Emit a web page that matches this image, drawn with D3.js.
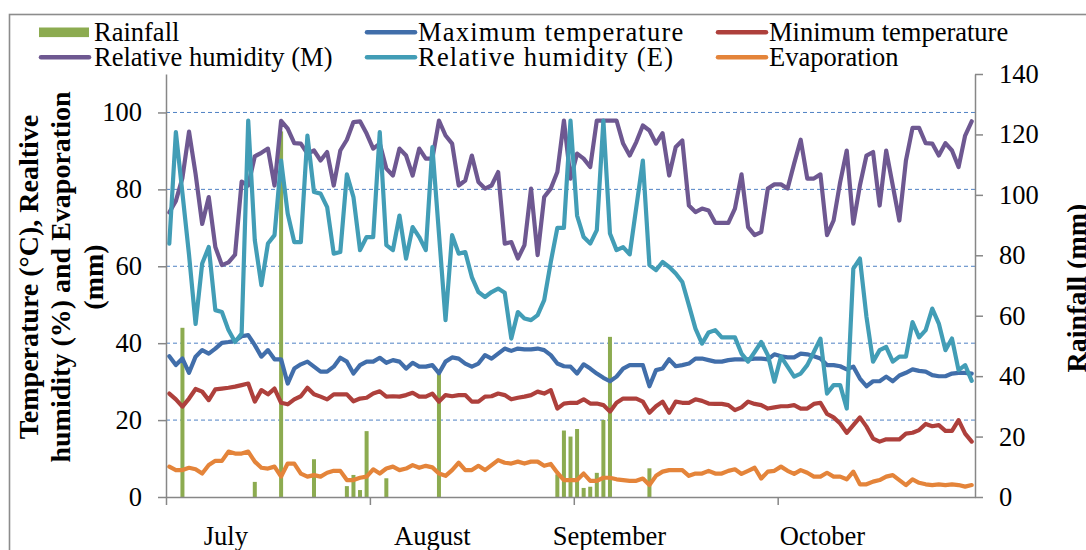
<!DOCTYPE html>
<html>
<head>
<meta charset="utf-8">
<script src="https://cdn.jsdelivr.net/npm/d3@7"></script>
<style>
  body { margin: 0; background: #fff; }
  svg text { font-family: "Liberation Serif", serif; fill: #000; }
</style>
</head>
<body>
<svg id="chart" width="1086" height="550" font-family="Liberation Serif, serif"></svg>
<script>
// Daily weather record, 1 July – 31 October (123 days)
const days = d3.range(123);

// Rainfall (mm), secondary axis
const rainfall = [
  0,0,56,0,0,0,0,0,0,0, 0,0,0,5,0,0,0,121,0,0,
  0,0,12.5,0,0,0,0,3.6,7.3,2.3, 21.8,0,0,6.2,0,0,0,0,0,0,
  0,41,0,0,0,0,0,0,0,0, 0,0,0,0,0,0,0,0,0,7.5,
  22,20,22.5,3,3.4,8,25.5,53,0,0, 0,0,0,9.5,0,0,0,0,0,0,
  0,0,0,0,0,0,0,0,0,0, 0,0,0,0,0,0,0,0,0,0,
  0,0,0,0,0,0,0,0,0,0, 0,0,0,0,0,0,0,0,0,0,
  0,0,0
];

// Maximum temperature (°C)
const maxTemp = [
  36.6,34.3,36.0,32.3,36.5,38.2,37.3,38.6,40.1,40.3, 40.6,41.8,42.1,39.5,36.5,38.2,35.8,35.8,29.5,33.4,
  34.5,35.2,33.9,32.6,32.6,33.9,36.2,35.2,32.1,34.3, 35.2,35.2,36.2,34.9,35.6,35.2,33.4,34.9,33.9,33.9,
  34.3,32.2,35.2,36.3,36.0,34.7,33.9,34.7,36.9,36.0, 37.3,38.6,38.0,38.6,38.4,38.4,38.6,38.2,36.9,34.7,
  34.0,33.9,32.1,34.5,33.4,32.1,31.0,30.1,31.3,33.4, 34.3,34.3,34.3,28.8,33.0,33.4,35.8,34.0,34.3,34.7,
  36.0,36.0,35.6,35.2,35.2,35.6,35.8,35.8,35.8,36.0, 36.0,35.8,37.1,36.6,36.3,36.3,37.3,37.1,36.6,36.0,
  34.3,34.3,34.0,33.2,33.9,30.8,28.8,30.1,30.1,31.3, 30.1,31.6,32.3,33.2,32.8,32.6,31.7,31.4,31.4,32.1,
  32.3,32.3,32.1
];

// Minimum temperature (°C)
const minTemp = [
  26.9,25.4,23.5,25.6,28.1,27.4,25.2,28.0,28.2,28.4, 28.7,29.1,29.5,24.8,27.8,26.7,28.2,24.5,24.1,25.4,
  26.2,28.4,26.7,26.1,25.4,26.7,26.7,26.7,24.9,25.6, 25.8,26.9,27.5,26.1,26.2,26.1,26.5,27.1,26.1,26.1,
  26.9,24.8,26.5,26.2,26.5,26.5,24.8,24.8,26.1,26.2, 26.9,26.5,25.4,25.8,26.1,26.5,27.4,26.9,27.8,23.0,
  24.3,24.5,24.5,25.4,24.3,24.3,23.9,22.2,24.5,25.6, 25.6,25.6,24.8,21.9,23.6,24.8,21.9,24.8,24.5,24.5,
  25.4,25.0,24.3,24.2,24.2,23.9,22.6,23.3,24.8,24.2, 23.9,23.0,23.3,23.6,23.6,23.9,23.0,23.0,24.2,24.5,
  21.6,20.7,19.1,16.7,18.7,20.7,18.3,15.2,14.4,15.0, 15.0,15.0,16.5,16.7,17.4,19.0,18.4,18.7,17.2,17.2,
  20.0,16.5,14.4
];

// Relative humidity, morning (%)
const rhMorning = [
  74,77,83,95,84,71,78,65,60.3,61, 63,82,81,88.6,89.5,90.6,81,97.8,95.8,92,
  91.9,89.3,90.1,87.5,89.7,81,90.1,92.9,97.5,97.7, 94.5,90.6,91.9,85.4,83.6,90.6,88.8,83.6,90.6,88,
  88,97.9,94,91.9,81,82.3,88.8,81.9,80.2,81, 84.5,65.9,66.3,62,65.5,80.2,62.9,78,80.2,84.5,
  97.9,82.8,89.3,88,85.8,97.9,97.9,97.9,97.9,91.9, 88.8,92.3,96.6,95.3,91.9,94.6,83.6,91,92.7,75.8,
  74.1,75,74.5,71.3,71.3,71.3,75,83.9,70.2,68.1, 68.9,80.2,81.3,81.3,80.2,86.7,92.9,82.8,82.8,83.9,
  68.1,71.9,81.9,90.1,71.1,81,88.8,89.7,75.8,90.1, 81,71.9,87.5,96,96,92,91.9,88.8,92,90.1,
  85.8,94,97.7
];

// Relative humidity, evening (%)
const rhEvening = [
  65.9,94.9,79,63,45,60.7,65,48.6,48.1,43.4, 40.3,42.5,97.9,66.8,55.1,65.9,68.1,87.5,73.7,66.3,
  66.3,94,79.3,78.9,75.4,63.3,63.7,83.9,78,64.2, 67.6,67.6,94.9,65.5,64.2,73.2,62,70.2,67.6,64.2,
  91,68.5,46,68.1,63.3,63.7,57.2,53.3,52,53.3, 54.2,53.1,41.2,48.1,46.4,46,47.3,51.2,61.1,70,
  70,97.9,73.2,67.6,65.9,69.4,97.9,68.5,64.2,65, 63.1,75.3,87.5,60.3,59,61.1,59.8,58.1,55.9,49.9,
  43.8,39.9,42.8,43.4,41.5,41.5,41.5,37.3,35.2,37.7, 40.3,36.9,30,36.5,33.9,31.3,32.1,34.3,37.7,41.2,
  26.9,29.1,29.1,23,59.4,62,46.8,35.2,38.2,39, 35.2,36.5,36.5,45.5,41.5,43.4,49,45.1,38.2,41.2,
  33,34.3,30.2
];

// Evaporation (mm)
const evaporation = [
  7.9,7.0,7.0,7.6,7.2,6.1,8.3,9.4,9.4,11.8, 11.3,11.3,11.8,9.2,7.6,7.4,7.9,5.3,8.7,8.7,
  6.1,5.3,5.7,5.3,6.3,6.8,6.8,4.4,4.4,5.0, 5.3,7.2,6.1,7.4,7.9,7.0,7.4,8.3,7.6,8.1,
  7.7,6.1,5.5,7.0,8.9,7.0,7.0,8.1,7.0,8.3, 9.6,8.9,8.7,9.2,8.7,9.2,9.2,8.1,8.6,6.3,
  4.4,4.4,4.4,6.1,4.2,4.2,5.0,5.0,4.6,4.4, 4.2,4.2,4.8,3.1,5.5,6.6,7.0,7.0,7.0,5.5,
  6.1,6.1,6.8,6.1,6.1,6.8,7.2,6.0,6.8,7.6, 4.8,6.6,6.8,7.9,6.8,6.0,7.0,6.3,5.3,5.3,
  6.3,5.3,5.3,4.6,6.6,3.3,3.3,4.0,4.4,5.3, 5.7,4.4,3.1,4.6,3.7,3.3,3.1,3.3,3.1,3.3,
  3.1,2.7,3.1
];

// Axis ticks and month labels
const leftTicks = [0, 20, 40, 60, 80, 100];
const rightTicks = [0, 20, 40, 60, 80, 100, 120, 140];
const gridValues = [20, 40, 60, 80, 100];
const monthStarts = [0, 31, 62, 93];
const months = ["July", "August", "September", "October"];
const monthLabelAt = [8.6, 40.0, 66.9, 99.3];   // day index under each month name

const lineSeries = [
  { name: "Maximum temperature", values: maxTemp, color: "#416eaa" },
  { name: "Minimum temperature", values: minTemp, color: "#ae403c" },
  { name: "Relative humidity (M)", values: rhMorning, color: "#6e5891" },
  { name: "Relative humidity (E)", values: rhEvening, color: "#429db6" },
  { name: "Evaporation", values: evaporation, color: "#e4843a" }
];
const rainColor = "#8cab50";

const W = 1086, H = 550;
const plot = { left: 166, right: 975, top: 74, bottom: 497 };
const axisColor = "#878787";
const labelSize = 26.5;
const serif = "Liberation Serif, serif";

const svg = d3.select("#chart");
svg.append("rect").attr("width", W).attr("height", H).attr("fill", "#fff");

// outer chart frame
svg.append("rect")
  .attr("x", 9.5).attr("y", 14.5).attr("width", 1100).attr("height", 600)
  .attr("fill", "none").attr("stroke", "#8c8c8c").attr("stroke-width", 1.6);

const x = d3.scaleBand().domain(days).range([plot.left, plot.right]);
const xDay = d3.scaleLinear().domain([0, days.length]).range([plot.left, plot.right]);
const cx = i => x(i) + x.bandwidth() / 2;
const yL = d3.scaleLinear().domain([0, 110]).range([plot.bottom, plot.top]);
const yR = d3.scaleLinear().domain([0, 140]).range([plot.bottom, plot.top]);

// dashed horizontal gridlines
svg.append("g").selectAll("line").data(gridValues).join("line")
  .attr("x1", plot.left).attr("x2", plot.right)
  .attr("y1", d => yL(d)).attr("y2", d => yL(d))
  .attr("stroke", "#4f81c4").attr("stroke-width", 1).attr("stroke-dasharray", "4,3");

// rainfall columns
svg.append("g").selectAll("rect").data(days.filter(i => rainfall[i] > 0)).join("rect")
  .attr("x", i => cx(i) - 2).attr("width", 4)
  .attr("y", i => yR(rainfall[i]))
  .attr("height", i => plot.bottom - yR(rainfall[i]))
  .attr("fill", rainColor);

// weather lines
const line = d3.line().x((d, i) => cx(i)).y(d => yL(d));
svg.append("g").selectAll("path").data(lineSeries).join("path")
  .attr("d", s => line(s.values))
  .attr("fill", "none")
  .attr("stroke", s => s.color)
  .attr("stroke-width", 4.2)
  .attr("stroke-linejoin", "round")
  .attr("stroke-linecap", "round");

// axes
function styleAxis(g) {
  g.attr("font-family", serif);
  g.selectAll(".domain").attr("stroke", axisColor).attr("stroke-width", 1.5);
  g.selectAll(".tick line").attr("stroke", axisColor).attr("stroke-width", 1.5);
  g.selectAll(".tick text").attr("font-size", labelSize).attr("fill", "#000");
}

svg.append("g").attr("transform", `translate(${plot.left},0)`)
  .call(d3.axisLeft(yL).tickValues(leftTicks).tickSizeInner(8).tickSizeOuter(0).tickPadding(16))
  .call(styleAxis);

svg.append("g").attr("transform", `translate(${plot.right},0)`)
  .call(d3.axisRight(yR).tickValues(rightTicks).tickSizeInner(8).tickSizeOuter(0).tickPadding(16))
  .call(styleAxis);

svg.append("g").attr("transform", `translate(0,${plot.bottom})`)
  .call(d3.axisBottom(xDay).tickValues(monthStarts).tickFormat("").tickSizeInner(8).tickSizeOuter(0))
  .call(styleAxis);

// month names
svg.append("g").selectAll("text").data(months).join("text")
  .attr("x", (d, k) => xDay(monthLabelAt[k] + 0.5))
  .attr("y", 545)
  .attr("text-anchor", "middle")
  .attr("font-size", labelSize)
  .text(d => d);

// axis titles
const leftTitle = ["Temperature (°C), Realtive", "humidity (%) and Evaporation", "(mm)"];
svg.append("g").selectAll("text").data(leftTitle).join("text")
  .attr("transform", (d, k) => `translate(${37.5 + k * 32.5},277) rotate(-90)`)
  .attr("text-anchor", "middle")
  .attr("font-size", 28).attr("font-weight", "bold")
  .text(d => d);

svg.append("text")
  .attr("transform", "translate(1086,288) rotate(-90)")
  .attr("text-anchor", "middle")
  .attr("font-size", 28).attr("font-weight", "bold")
  .text("Rainfall (mm)");

// legend
const legendItems = [
  { name: "Rainfall", type: "bar", color: rainColor, col: 0, row: 0 },
  { name: lineSeries[0].name, type: "line", color: lineSeries[0].color, col: 1, row: 0 },
  { name: lineSeries[1].name, type: "line", color: lineSeries[1].color, col: 2, row: 0 },
  { name: lineSeries[2].name, type: "line", color: lineSeries[2].color, col: 0, row: 1 },
  { name: lineSeries[3].name, type: "line", color: lineSeries[3].color, col: 1, row: 1 },
  { name: lineSeries[4].name, type: "line", color: lineSeries[4].color, col: 2, row: 1 }
];
const colX = [39, 365, 716];
const colSpacing = [0, 1.2, 0];
const rowY = [32.3, 57.3];
const leg = svg.append("g").selectAll("g").data(legendItems).join("g")
  .attr("transform", d => `translate(${colX[d.col]},${rowY[d.row]})`);
leg.filter(d => d.type === "bar").append("rect")
  .attr("x", 0).attr("y", -4.8).attr("width", 50).attr("height", 9.6).attr("fill", d => d.color);
leg.filter(d => d.type === "line").append("line")
  .attr("x1", 2).attr("x2", 50).attr("y1", 0).attr("y2", 0)
  .attr("stroke", d => d.color).attr("stroke-width", 4.5).attr("stroke-linecap", "round");
leg.append("text")
  .attr("x", d => d.col === 0 ? 55 : 53)
  .attr("y", 8.8)
  .attr("font-size", labelSize)
  .attr("letter-spacing", d => colSpacing[d.col])
  .text(d => d.name);
</script>
</body>
</html>
